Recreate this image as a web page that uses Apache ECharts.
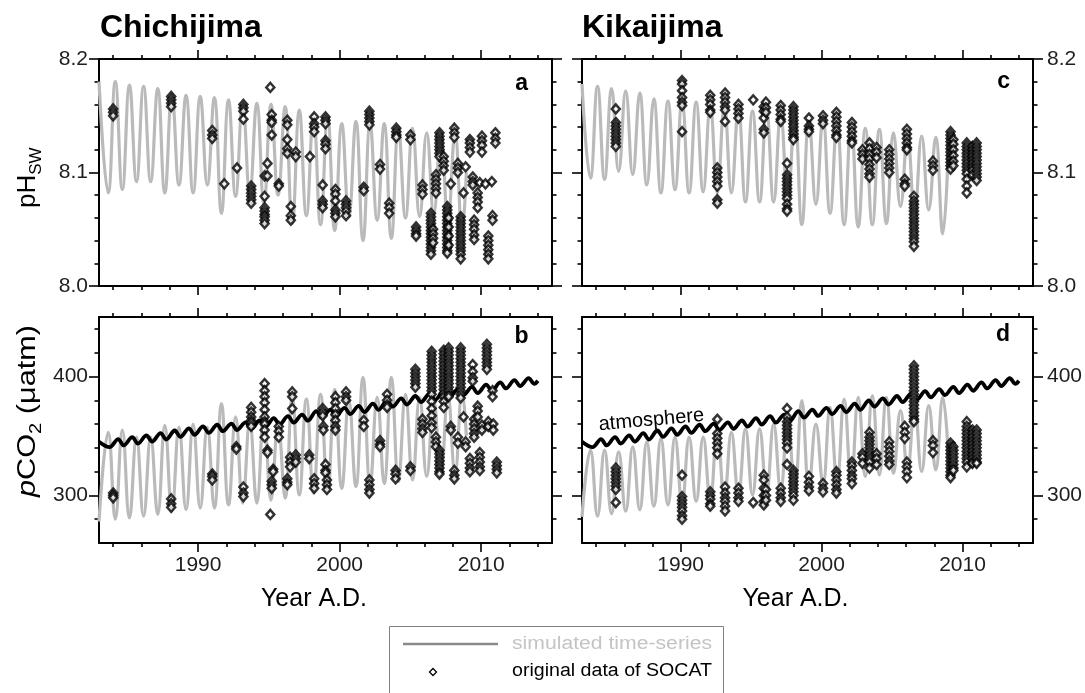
<!DOCTYPE html>
<html>
<head>
<meta charset="utf-8">
<title>Chichijima and Kikaijima: seawater pH and pCO2</title>
<script src="https://cdn.jsdelivr.net/npm/echarts@6.0.0/dist/echarts.min.js"></script>
<style>
  html, body { margin: 0; padding: 0; background: #ffffff; }
  #chart { width: 1085px; height: 693px; }
</style>
</head>
<body>
<div id="chart"></div>
<script>
// ---------------------------------------------------------------------------
// Tick positions
// ---------------------------------------------------------------------------
const yearMajorTicks = [1990, 2000, 2010];
const yearMinorTicks = [1984, 1986, 1988, 1992, 1994, 1996, 1998, 2002, 2004, 2006, 2008, 2012, 2014];
const phMajorTicks = [8.0, 8.1, 8.2];
const phMinorTicks = [8.02, 8.04, 8.06, 8.08, 8.12, 8.14, 8.16, 8.18];
const pco2MajorTicks = [300, 400];
const pco2MinorTicks = [280, 320, 340, 360, 380, 420, 440];

// ---------------------------------------------------------------------------
// Simulated seasonal time-series: [decimal year, value] at the seasonal extremes
// ---------------------------------------------------------------------------
const simPhChichi = [
  [1983.0, 8.180], [1983.65, 8.082], [1984.15, 8.180], [1984.65, 8.085], [1985.15, 8.177], [1985.65, 8.092],
  [1986.15, 8.176], [1986.65, 8.092], [1987.15, 8.174], [1987.65, 8.082], [1988.15, 8.169], [1988.65, 8.089],
  [1989.15, 8.168], [1989.65, 8.082], [1990.15, 8.167], [1990.65, 8.089], [1991.15, 8.166], [1991.65, 8.064],
  [1992.15, 8.164], [1992.65, 8.079], [1993.15, 8.161], [1993.65, 8.082], [1994.15, 8.161], [1994.65, 8.073],
  [1995.15, 8.160], [1995.65, 8.080], [1996.15, 8.158], [1996.65, 8.055], [1997.15, 8.155], [1997.65, 8.062],
  [1998.15, 8.151], [1998.65, 8.054], [1999.15, 8.149], [1999.65, 8.049], [2000.15, 8.143], [2000.65, 8.061],
  [2001.15, 8.145], [2001.65, 8.040], [2002.15, 8.143], [2002.65, 8.058], [2003.15, 8.143], [2003.65, 8.042],
  [2004.15, 8.140], [2004.65, 8.060], [2005.15, 8.139], [2005.65, 8.061], [2006.15, 8.135], [2006.65, 8.064],
  [2007.15, 8.135], [2007.65, 8.058], [2008.15, 8.134], [2008.65, 8.049], [2008.95, 8.100]
];
const simPco2Chichi = [
  [1983.0, 278], [1983.65, 353], [1984.15, 280], [1984.65, 355], [1985.15, 281], [1985.65, 349],
  [1986.15, 282.5], [1986.65, 349], [1987.15, 284], [1987.65, 359], [1988.15, 287], [1988.65, 357.5],
  [1989.15, 288], [1989.65, 360], [1990.15, 289.4], [1990.65, 357.5], [1991.15, 289.4], [1991.65, 377],
  [1992.15, 292], [1992.65, 366], [1993.15, 293.6], [1993.65, 361.7], [1994.15, 293.6], [1994.65, 368.6],
  [1995.15, 296], [1995.65, 360], [1996.15, 297.8], [1996.65, 382.5], [1997.15, 300.5], [1997.65, 381],
  [1998.15, 302], [1998.65, 385], [1999.15, 303], [1999.65, 389], [2000.15, 306], [2000.65, 380],
  [2001.15, 307.5], [2001.65, 399], [2002.15, 309], [2002.65, 382.5], [2003.15, 310], [2003.65, 399],
  [2004.15, 311.7], [2004.65, 385], [2005.15, 313], [2005.65, 382.5], [2006.15, 316], [2006.65, 380],
  [2007.15, 317], [2007.65, 384], [2008.15, 318.6], [2008.65, 388], [2008.95, 350]
];
const simPhKikai = [
  [1983.0, 8.178], [1983.6, 8.095], [1984.1, 8.176], [1984.6, 8.094], [1985.1, 8.174], [1985.6, 8.101],
  [1986.1, 8.172], [1986.6, 8.098], [1987.1, 8.170], [1987.6, 8.089], [1988.1, 8.165], [1988.6, 8.082],
  [1989.1, 8.163], [1989.6, 8.085], [1990.1, 8.163], [1990.6, 8.082], [1991.1, 8.162], [1991.6, 8.083],
  [1992.1, 8.158], [1992.6, 8.082], [1993.1, 8.159], [1993.6, 8.082], [1994.1, 8.156], [1994.6, 8.074],
  [1995.1, 8.154], [1995.6, 8.074], [1996.1, 8.154], [1996.6, 8.074], [1997.1, 8.151], [1997.6, 8.076],
  [1998.1, 8.151], [1998.6, 8.054], [1999.1, 8.147], [1999.6, 8.072], [2000.1, 8.148], [2000.6, 8.064],
  [2001.1, 8.145], [2001.6, 8.054], [2002.1, 8.145], [2002.6, 8.052], [2003.1, 8.139], [2003.6, 8.054],
  [2004.1, 8.138], [2004.6, 8.055], [2005.1, 8.135], [2005.6, 8.070], [2006.1, 8.132], [2006.6, 8.064],
  [2007.1, 8.132], [2007.6, 8.067], [2008.1, 8.131], [2008.6, 8.046], [2009.0, 8.125]
];
const simPco2Kikai = [
  [1983.0, 282], [1983.6, 338], [1984.1, 282.5], [1984.6, 338], [1985.1, 284.7], [1985.6, 336.7],
  [1986.1, 286.7], [1986.6, 340.8], [1987.1, 288], [1987.6, 345], [1988.1, 290.8], [1988.6, 347.8],
  [1989.1, 292], [1989.6, 349], [1990.1, 293.6], [1990.6, 349], [1991.1, 295], [1991.6, 349],
  [1992.1, 296.4], [1992.6, 354.7], [1993.1, 297.8], [1993.6, 353], [1994.1, 300.5], [1994.6, 356],
  [1995.1, 300.5], [1995.6, 356], [1996.1, 302], [1996.6, 360], [1997.1, 304.7], [1997.6, 363],
  [1998.1, 304.7], [1998.6, 379.7], [1999.1, 307.5], [1999.6, 360], [2000.1, 309], [2000.6, 374],
  [2001.1, 311.7], [2001.6, 381], [2002.1, 313], [2002.6, 382.5], [2003.1, 315.8], [2003.6, 383.9],
  [2004.1, 317.2], [2004.6, 382.5], [2005.1, 318.6], [2005.6, 371.4], [2006.1, 321.4], [2006.6, 375.5],
  [2007.1, 320], [2007.6, 375.5], [2008.1, 321.4], [2008.6, 382.5], [2009.0, 332]
];

// Atmospheric CO2 (same record drawn in both pCO2 panels)
const atmosphereCO2 = [
  [1983.0, 345.2], [1983.75, 340.6], [1984.35, 347.4], [1984.75, 342.0], [1985.35, 349.0], [1985.75, 343.6],
  [1986.35, 350.4], [1986.75, 345.2], [1987.35, 352.4], [1987.75, 347.0], [1988.35, 354.6], [1988.75, 349.2],
  [1989.35, 356.4], [1989.75, 351.0], [1990.35, 358.0], [1990.75, 352.6], [1991.35, 359.4], [1991.75, 354.0],
  [1992.35, 360.4], [1992.75, 355.0], [1993.35, 361.4], [1993.75, 356.0], [1994.35, 363.0], [1994.75, 357.8],
  [1995.35, 365.0], [1995.75, 359.6], [1996.35, 366.6], [1996.75, 361.2], [1997.35, 368.0], [1997.75, 362.8],
  [1998.35, 370.8], [1998.75, 365.4], [1999.35, 372.2], [1999.75, 366.8], [2000.35, 373.6], [2000.75, 368.4],
  [2001.35, 375.2], [2001.75, 370.0], [2002.35, 377.2], [2002.75, 372.0], [2003.35, 379.8], [2003.75, 374.6],
  [2004.35, 381.6], [2004.75, 376.4], [2005.35, 383.6], [2005.75, 378.4], [2006.35, 385.6], [2006.75, 380.4],
  [2007.35, 387.6], [2007.75, 382.4], [2008.35, 389.4], [2008.75, 384.4], [2009.35, 391.2], [2009.75, 386.0],
  [2010.35, 393.2], [2010.75, 388.0], [2011.35, 395.0], [2011.75, 390.0], [2012.35, 397.0], [2012.75, 392.0],
  [2013.35, 398.6], [2013.75, 393.8], [2014.0, 396.4]
];

// ---------------------------------------------------------------------------
// SOCAT observations, one row per cruise: [decimal year, value, value, ...]
// ---------------------------------------------------------------------------
const socatPhChichi = [
  [1984.0, 8.156, 8.153, 8.150], [1988.1, 8.167, 8.164, 8.161, 8.158], [1991.0, 8.137, 8.133, 8.130],
  [1991.85, 8.090], [1992.75, 8.104], [1993.2, 8.160, 8.157, 8.154, 8.147],
  [1993.75, 8.088, 8.085, 8.082, 8.079, 8.076, 8.073],
  [1994.7, 8.097, 8.079, 8.069, 8.066, 8.063, 8.061, 8.058, 8.055], [1994.9, 8.108, 8.097], [1995.1, 8.175],
  [1995.2, 8.151, 8.146, 8.144, 8.133], [1995.7, 8.090, 8.088], [1996.3, 8.146, 8.142, 8.129, 8.121, 8.117],
  [1996.55, 8.070, 8.062, 8.058], [1996.9, 8.118, 8.114], [1997.9, 8.114], [1998.2, 8.149, 8.143, 8.140, 8.136],
  [1998.8, 8.089, 8.075, 8.072, 8.069], [1999.0, 8.149, 8.146, 8.143, 8.128, 8.125, 8.121],
  [1999.7, 8.085, 8.081, 8.075, 8.067, 8.064, 8.061], [2000.45, 8.075, 8.072, 8.069, 8.066, 8.062],
  [2001.7, 8.087, 8.084], [2002.1, 8.154, 8.151, 8.148, 8.145, 8.142], [2002.85, 8.107, 8.103],
  [2003.5, 8.073, 8.069, 8.064], [2004.0, 8.139, 8.136, 8.133, 8.131], [2005.0, 8.133, 8.129],
  [2005.4, 8.052, 8.049, 8.046, 8.044], [2005.85, 8.089, 8.085, 8.081],
  [2006.45, 8.064, 8.061, 8.058, 8.055, 8.052, 8.049, 8.046, 8.043, 8.040, 8.037, 8.034, 8.031, 8.028],
  [2006.6, 8.050, 8.046, 8.042, 8.038],
  [2006.8, 8.098, 8.094, 8.090, 8.086, 8.082], [2007.05, 8.135, 8.132, 8.129, 8.126, 8.123, 8.120, 8.117, 8.114],
  [2007.35, 8.114, 8.110, 8.106, 8.102],
  [2007.6, 8.070, 8.067, 8.064, 8.061, 8.058, 8.055, 8.052, 8.049, 8.046, 8.043, 8.040, 8.037, 8.034, 8.031, 8.029],
  [2007.7, 8.060, 8.052, 8.044, 8.036],
  [2007.85, 8.090], [2008.1, 8.139, 8.135, 8.131], [2008.35, 8.108, 8.104, 8.100],
  [2008.55, 8.061, 8.058, 8.055, 8.052, 8.049, 8.046, 8.043, 8.040, 8.037, 8.034, 8.031, 8.028, 8.024],
  [2008.75, 8.082], [2008.9, 8.105], [2009.2, 8.129, 8.126, 8.122, 8.118], [2009.4, 8.096, 8.092, 8.089],
  [2009.5, 8.058, 8.054, 8.050, 8.045, 8.041], [2009.75, 8.082, 8.078, 8.074, 8.069], [2009.9, 8.091],
  [2010.05, 8.132, 8.128, 8.124, 8.118], [2010.3, 8.090], [2010.5, 8.044, 8.040, 8.036, 8.032, 8.028, 8.024],
  [2010.75, 8.092], [2010.8, 8.062, 8.058], [2011.0, 8.135, 8.130, 8.126]
];
const socatPco2Chichi = [
  [1984.0, 302, 300, 298], [1988.1, 297, 293, 290], [1991.0, 318, 316, 313], [1992.7, 341, 339],
  [1993.2, 307, 302, 299], [1993.75, 374, 370, 366, 363, 361, 358],
  [1994.7, 394, 388, 383, 378, 372, 366, 362, 360, 355, 349], [1994.9, 338, 336], [1995.1, 284],
  [1995.2, 312, 309, 306], [1995.3, 322, 320], [1995.7, 358, 354, 349], [1996.3, 314, 311, 309],
  [1996.5, 332, 328, 324], [1996.65, 387, 383, 373], [1996.9, 334, 331, 328], [1997.85, 334, 331],
  [1998.2, 314, 310, 306], [1998.8, 373, 370, 367], [1998.85, 358, 355], [1999.0, 326, 321, 319],
  [1999.1, 313, 309, 305], [1999.7, 383, 378, 373, 368, 363, 358, 355], [2000.45, 387, 383, 380],
  [2001.7, 363, 358], [2002.1, 313, 309, 305, 302], [2002.85, 346, 343, 341], [2003.35, 385, 380, 376, 374],
  [2003.95, 321, 318, 314], [2005.0, 324, 321], [2005.35, 406, 403, 400, 397, 394, 391],
  [2005.85, 364, 360, 356, 353],
  [2006.5, 421, 418, 415, 412, 409, 406, 403, 400, 397, 394, 391, 388, 385, 379, 373, 367, 361, 357],
  [2006.8, 349, 345, 341], [2007.05, 338, 335, 332, 329, 326, 323, 320, 318],
  [2007.35, 422, 419, 416, 413, 410, 407, 404, 401, 398, 395, 392, 389, 386, 383, 379, 374],
  [2007.7, 424, 421, 418, 415, 412, 409, 406, 403, 400, 397, 394, 391, 388, 385, 383],
  [2007.85, 358, 355], [2008.1, 321, 317, 314],
  [2008.35, 349, 344], [2008.55, 424, 421, 418, 415, 412, 409, 406, 403, 400, 397, 394, 391, 388, 385, 382],
  [2008.75, 366], [2008.9, 345, 341],
  [2009.2, 331, 327, 323, 320], [2009.4, 410, 404, 399, 396], [2009.5, 364, 360, 356, 352, 349],
  [2009.75, 375, 371, 366], [2009.9, 336, 332, 328, 324, 321], [2010.05, 359, 355],
  [2010.4, 427, 424, 421, 418, 415, 412, 409, 406], [2010.5, 362, 358], [2010.8, 388, 383], [2010.85, 360, 355],
  [2011.1, 328, 325, 322, 319]
];
const socatPhKikai = [
  [1985.4, 8.156, 8.144, 8.141, 8.138, 8.135, 8.132, 8.129, 8.126, 8.123],
  [1990.1, 8.181, 8.178, 8.172, 8.166, 8.162, 8.159, 8.136],
  [1992.1, 8.168, 8.164, 8.160, 8.155, 8.153], [1992.6, 8.104, 8.100, 8.096, 8.092, 8.088, 8.076, 8.073],
  [1993.15, 8.170, 8.166, 8.162, 8.158, 8.155, 8.145], [1994.1, 8.160, 8.156, 8.152, 8.148], [1995.15, 8.164],
  [1995.9, 8.158, 8.154, 8.148, 8.138, 8.135], [1996.05, 8.162, 8.157, 8.153],
  [1997.1, 8.159, 8.155, 8.151, 8.147, 8.145],
  [1997.55, 8.108, 8.098, 8.095, 8.092, 8.089, 8.086, 8.083, 8.080, 8.077, 8.072, 8.068, 8.066],
  [1998.0, 8.158, 8.155, 8.152, 8.149, 8.146, 8.143, 8.140, 8.137, 8.134, 8.131, 8.129],
  [1999.1, 8.148, 8.141, 8.138, 8.136],
  [2000.1, 8.150, 8.146, 8.143], [2001.05, 8.153, 8.149, 8.145, 8.141, 8.137, 8.133, 8.131],
  [2002.15, 8.144, 8.140, 8.136, 8.132, 8.128, 8.126], [2002.9, 8.120, 8.116, 8.112],
  [2003.4, 8.126, 8.121, 8.116, 8.112, 8.107, 8.103, 8.099, 8.096], [2003.9, 8.122, 8.118, 8.113],
  [2004.8, 8.120, 8.116, 8.112, 8.108, 8.104, 8.100], [2005.9, 8.094, 8.090, 8.088],
  [2006.05, 8.138, 8.134, 8.130, 8.126, 8.122, 8.120],
  [2006.55, 8.079, 8.075, 8.072, 8.069, 8.066, 8.063, 8.060, 8.057, 8.054, 8.051, 8.048, 8.045, 8.042, 8.039, 8.035],
  [2007.9, 8.110, 8.106, 8.102],
  [2009.15, 8.136, 8.133, 8.130, 8.127, 8.124, 8.121, 8.118, 8.115, 8.112, 8.109, 8.106, 8.103],
  [2009.35, 8.129, 8.125, 8.120, 8.115, 8.110, 8.106],
  [2010.3, 8.126, 8.123, 8.120, 8.117, 8.114, 8.111, 8.108, 8.105, 8.102, 8.099, 8.094, 8.088, 8.082],
  [2010.7, 8.123, 8.120, 8.117, 8.114, 8.111, 8.108, 8.105, 8.102, 8.098],
  [2011.0, 8.126, 8.123, 8.120, 8.117, 8.114, 8.111, 8.108, 8.105, 8.102, 8.099, 8.096, 8.093]
];
const socatPco2Kikai = [
  [1985.4, 323, 320, 317, 314, 311, 308, 305, 294], [1990.1, 317, 299, 296, 293, 290, 287, 283, 280],
  [1992.1, 303, 300, 297, 293, 291], [1992.6, 364, 352, 348, 344, 340, 335],
  [1993.15, 307, 302, 298, 295, 291, 287], [1994.1, 306, 302, 298, 295], [1995.15, 294],
  [1995.9, 317, 313, 306, 300, 295, 292], [1996.05, 305, 300, 296], [1997.1, 306, 302, 298, 295],
  [1997.55, 373, 366, 362, 359, 356, 353, 350, 347, 344, 340, 326],
  [1998.0, 321, 318, 315, 312, 309, 306, 303, 300, 296],
  [1999.1, 316, 311, 307, 304], [2000.1, 310, 306, 303], [2001.05, 320, 317, 313, 309, 305, 302],
  [2002.15, 328, 325, 321, 317, 314, 310], [2002.9, 335, 332, 327],
  [2003.4, 353, 349, 346, 343, 340, 337, 334, 331, 328, 323], [2003.9, 335, 331, 326],
  [2004.8, 345, 341, 337, 333, 329, 326], [2005.9, 358, 353, 348], [2006.05, 328, 324, 320, 315],
  [2006.55, 409, 406, 403, 400, 397, 394, 391, 388, 385, 382, 379, 376, 373, 370, 367, 364, 362],
  [2007.9, 346, 342, 336],
  [2009.15, 344, 341, 338, 335, 332, 329, 326, 323, 320, 317, 315],
  [2009.35, 341, 338, 335, 332, 329, 326, 323, 321],
  [2010.3, 362, 358, 355, 352, 349, 346, 343, 340, 337, 334, 331, 328, 324],
  [2010.7, 355, 352, 349, 346, 343, 340, 337, 334, 331, 328, 327],
  [2011.0, 355, 352, 349, 346, 343, 340, 337, 334, 331, 328, 327]
];

// ---------------------------------------------------------------------------
// Helpers
// ---------------------------------------------------------------------------
const FONT = '"Liberation Sans", Arial, Helvetica, sans-serif';
const MID = 0.3465; // canvas 'middle' baseline sits this fraction of the font size above the alphabetic one
const measureCtx = document.createElement('canvas').getContext('2d');
function textWidth(text, size, weight, style) {
  measureCtx.font = (style || 'normal') + ' ' + (weight || 'normal') + ' ' + size + 'px ' + FONT;
  return measureCtx.measureText(text).width;
}
function cruisePoints(rows) {
  const pts = [];
  rows.forEach(function (row) {
    for (let i = 1; i < row.length; i++) pts.push([row[0], row[i]]);
  });
  return pts;
}

const scales = {
  ph: { min: 8.0, max: 8.2, major: phMajorTicks, minor: phMinorTicks, fmt: function (v) { return v.toFixed(1); } },
  pco2: { min: 260, max: 450, major: pco2MajorTicks, minor: pco2MinorTicks, fmt: function (v) { return String(v); } }
};

function xAxis(grid, position, ticks, len, withLabels, withLine) {
  return {
    type: 'value', gridIndex: grid, position: position, min: 1983, max: 2015,
    axisLine: { show: withLine, onZero: false, lineStyle: { color: '#000', width: 2 } },
    axisTick: { show: true, inside: false, length: len, customValues: ticks, lineStyle: { color: '#000', width: 1.6 } },
    axisLabel: withLabels
      ? { show: true, customValues: ticks, formatter: function (v) { return String(v); },
          margin: 12, fontSize: 21, fontFamily: FONT, color: '#1e1e1e' }
      : { show: false },
    splitLine: { show: false }
  };
}
function yAxis(grid, position, sc, ticks, len, withLabels, withLine) {
  return {
    type: 'value', gridIndex: grid, position: position, min: sc.min, max: sc.max,
    axisLine: { show: withLine, onZero: false, lineStyle: { color: '#000', width: 2 } },
    axisTick: { show: true, inside: false, length: len, customValues: ticks, lineStyle: { color: '#000', width: 1.6 } },
    axisLabel: withLabels
      ? { show: true, customValues: ticks, formatter: sc.fmt, margin: position === 'left' ? 11 : 14,
          fontSize: 21, fontFamily: FONT, color: '#1e1e1e' }
      : { show: false },
    splitLine: { show: false }
  };
}

// ---------------------------------------------------------------------------
// Panels
// ---------------------------------------------------------------------------
const panels = [
  { grid: { left: 99, top: 59, width: 453, height: 227 }, scale: 'ph', xLabels: false, ySide: 'left', sim: simPhChichi, obs: socatPhChichi },
  { grid: { left: 99, top: 317, width: 453, height: 226 }, scale: 'pco2', xLabels: true, ySide: 'left', sim: simPco2Chichi, obs: socatPco2Chichi, atm: true },
  { grid: { left: 582, top: 59, width: 451, height: 227 }, scale: 'ph', xLabels: false, ySide: 'right', sim: simPhKikai, obs: socatPhKikai },
  { grid: { left: 582, top: 317, width: 451, height: 226 }, scale: 'pco2', xLabels: true, ySide: 'right', sim: simPco2Kikai, obs: socatPco2Kikai, atm: true }
];

const grids = [], xAxes = [], yAxes = [], series = [];
panels.forEach(function (p, g) {
  grids.push(Object.assign({ containLabel: false, outerBoundsMode: 'none' }, p.grid));
  const xi = xAxes.length, yi = yAxes.length;
  const sc = scales[p.scale];
  xAxes.push(xAxis(g, 'bottom', yearMajorTicks, 9, p.xLabels, true));
  xAxes.push(xAxis(g, 'bottom', yearMinorTicks, 4, false, false));
  xAxes.push(xAxis(g, 'top', yearMajorTicks, 9, false, true));
  xAxes.push(xAxis(g, 'top', yearMinorTicks, 4, false, false));
  yAxes.push(yAxis(g, 'left', sc, sc.major, 10, p.ySide === 'left', true));
  yAxes.push(yAxis(g, 'left', sc, sc.minor, 4.5, false, false));
  yAxes.push(yAxis(g, 'right', sc, sc.major, 10, p.ySide === 'right', true));
  yAxes.push(yAxis(g, 'right', sc, sc.minor, 4.5, false, false));

  series.push({
    name: 'simulated time-series', type: 'line', xAxisIndex: xi, yAxisIndex: yi,
    data: p.sim, smooth: 0.45, showSymbol: false, symbol: 'none',
    lineStyle: { color: '#bababa', width: 3.2 }, z: 2, silent: true
  });
  if (p.atm) {
    series.push({
      name: 'atmosphere', type: 'line', xAxisIndex: xi, yAxisIndex: yi,
      data: atmosphereCO2, smooth: 0.35, showSymbol: false, symbol: 'none',
      lineStyle: { color: '#000', width: 3.8 }, z: 3, silent: true
    });
  }
  series.push({
    name: 'original data of SOCAT', type: 'scatter', xAxisIndex: xi, yAxisIndex: yi,
    data: cruisePoints(p.obs), symbol: 'diamond', symbolSize: [8, 9],
    itemStyle: { color: '#ffffff', borderColor: '#000000', borderWidth: 2.5 }, z: 4, silent: true
  });
});

// ---------------------------------------------------------------------------
// Titles, panel letters, axis names and the key
// ---------------------------------------------------------------------------
function label(text, x, baseline, size, opts) {
  opts = opts || {};
  return {
    type: 'text', x: x, y: baseline - MID * size, z: 100, scaleX: opts.scaleX || 1,
    rotation: opts.rotation || 0,
    style: {
      text: text, fontSize: size, fontFamily: FONT, fontWeight: opts.weight || 'normal',
      fontStyle: opts.style || 'normal', fill: opts.color || '#000',
      textAlign: opts.align || 'left', verticalAlign: 'middle'
    }
  };
}
function rotatedName(x, startY, parts, stretch) {
  let off = 0;
  const children = parts.map(function (p) {
    const st = p.italic ? 'italic' : 'normal';
    const el = {
      type: 'text', x: off, y: (p.dy || 0) - MID * p.size,
      style: { text: p.text, fontSize: p.size, fontFamily: FONT, fontStyle: st, fill: '#000', textAlign: 'left', verticalAlign: 'middle' }
    };
    off += textWidth(p.text, p.size, 'normal', st);
    return el;
  });
  return { type: 'group', x: x, y: startY, rotation: Math.PI / 2, scaleX: stretch || 1, z: 100, children: children };
}

const keyLine1 = 'simulated time-series';
const keyLine2 = 'original data of SOCAT';
const KEY_FONT = 18;
const key1Scale = 200 / textWidth(keyLine1, KEY_FONT);
const key2Scale = 200 / textWidth(keyLine2, KEY_FONT);

const graphics = [
  label('Chichijima', 100, 39, 32, { weight: 'bold' }),
  label('Kikaijima', 582, 39, 32, { weight: 'bold' }),
  label('a', 528, 91.7, 23, { weight: 'bold', align: 'right' }),
  label('b', 528.5, 345, 23, { weight: 'bold', align: 'right' }),
  label('c', 1010, 90, 23, { weight: 'bold', align: 'right' }),
  label('d', 1010, 342.7, 23, { weight: 'bold', align: 'right' }),
  label('Year A.D.', 314, 608, 25, { align: 'center' }),
  label('Year A.D.', 795.5, 608, 25, { align: 'center' }),
  rotatedName(37, 208, [{ text: 'pH', size: 26 }, { text: 'SW', size: 17, dy: 5 }]),
  rotatedName(37, 497, [
    { text: 'p', size: 26, italic: true }, { text: 'CO', size: 26 },
    { text: '2', size: 17, dy: 5 }, { text: ' (\u03bcatm)', size: 26 }
  ], 1.18),
  {
    type: 'group', x: 652, y: 427, rotation: 0.09, z: 100,
    children: [{
      type: 'text', x: 0, y: -MID * 20,
      style: { text: 'atmosphere', fontSize: 20, fontFamily: FONT, fill: '#000', textAlign: 'center', verticalAlign: 'middle' }
    }]
  },
  // key
  { type: 'rect', z: 90, shape: { x: 389.5, y: 626.5, width: 334, height: 90 }, style: { fill: '#fff', stroke: '#808080', lineWidth: 1 } },
  { type: 'line', z: 91, shape: { x1: 403, y1: 644, x2: 498, y2: 644 }, style: { stroke: '#8a8a8a', lineWidth: 2.4 } },
  label(keyLine1, 512, 650.5, KEY_FONT, { color: '#c4c4c4', scaleX: key1Scale }),
  {
    type: 'polygon', z: 91,
    shape: { points: [[433, 668.5], [436.5, 672], [433, 675.5], [429.5, 672]] },
    style: { fill: '#fff', stroke: '#000', lineWidth: 1.3 }
  },
  label(keyLine2, 512, 677.5, KEY_FONT, { color: '#000', scaleX: key2Scale })
];

const chart = echarts.init(document.getElementById('chart'), null, { renderer: 'canvas' });
chart.setOption({
  backgroundColor: '#ffffff',
  animation: false,
  grid: grids,
  xAxis: xAxes,
  yAxis: yAxes,
  series: series,
  graphic: graphics
});
</script>
</body>
</html>
